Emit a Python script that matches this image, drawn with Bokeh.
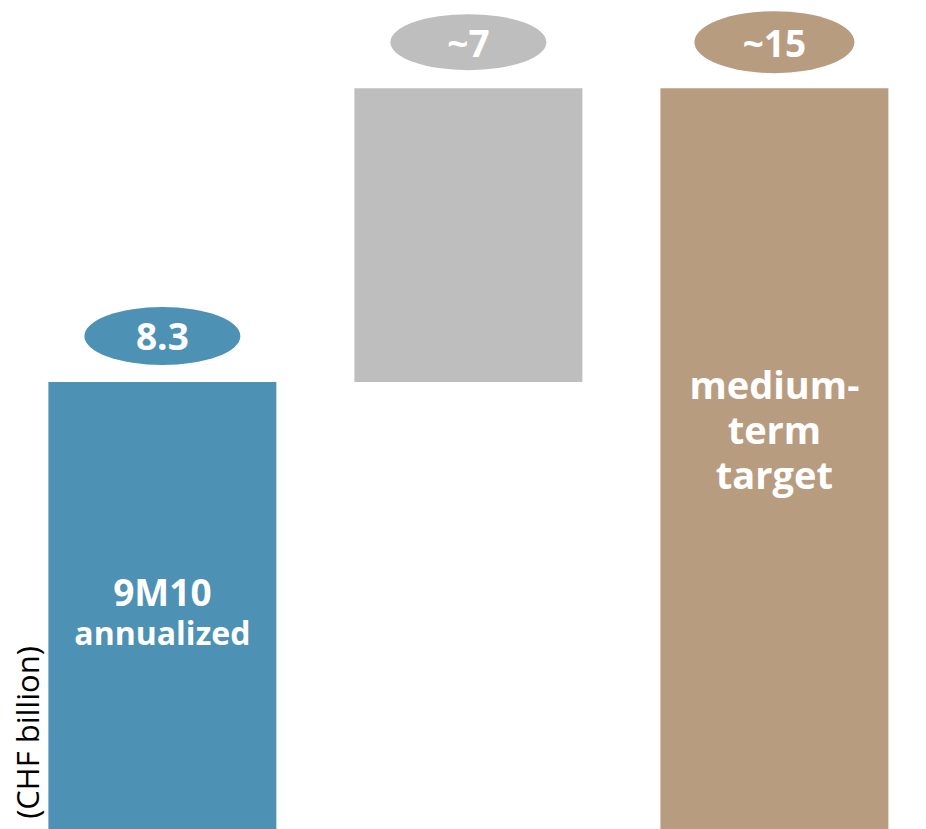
from math import pi
from bokeh.plotting import figure
from bokeh.models import Range1d, ColumnDataSource, Label
from bokeh.core.properties import value
from bokeh.embed import file_html
from bokeh.resources import INLINE

# ---- data ----
categories = ["9M10 annualized", "increase", "medium-term target"]
steps = [8.3, 6.7, 15.0]          # bar values (the middle one is an increment)
is_total = [True, False, True]
bubble_labels = ["8.3", "~7", "~15"]
colors = ["#4D91B4", "#BEBEBE", "#B89C80"]
unit_label = "(CHF billion)"

AXIS_FLOOR = -1.9
AXIS_TOP = 17.0

# waterfall geometry
bottoms, tops = [], []
running = 0.0
for v, tot in zip(steps, is_total):
    if tot:
        bottoms.append(AXIS_FLOOR)
        tops.append(v)
        running = v
    else:
        bottoms.append(running)
        running = running + v
        tops.append(running)

xs = list(range(len(categories)))
src = ColumnDataSource(dict(x=xs, bottom=bottoms, top=tops, color=colors,
                            label=bubble_labels,
                            ly=[t + 1.05 for t in tops],
                            ew=[156, 156, 160], eh=[58, 56, 62]))

p = figure(width=926, height=829, output_backend="svg", toolbar_location=None,
           x_range=Range1d(-0.529, 2.497), y_range=Range1d(AXIS_FLOOR, AXIS_TOP),
           min_border=0, min_border_left=0, min_border_right=0,
           min_border_top=0, min_border_bottom=0)
p.axis.visible = False
p.grid.visible = False
p.outline_line_color = None
p.background_fill_color = "white"
p.border_fill_color = "white"

p.vbar(x="x", bottom="bottom", top="top", width=0.745, color="color",
       line_color=None, source=src)

p.ellipse(x="x", y="ly", width="ew", height="eh", width_units="screen",
          height_units="screen", fill_color="color", line_color=None, source=src)

p.text(x="x", y="ly", text="label", source=src, text_color="white",
       text_font=value("Open Sans"), text_font_style="bold",
       text_font_size="37px", text_align="center", text_baseline="middle")

# in-bar labels
p.text(x=[xs[0]], y=[tops[0]], text=["9M10"], y_offset=209, text_color="white",
       text_font=value("Open Sans"), text_font_style="bold",
       text_font_size="37px", text_align="center", text_baseline="middle")
p.text(x=[xs[0]], y=[tops[0]], text=["annualized"], y_offset=250, text_color="white",
       text_font=value("Open Sans"), text_font_style="bold",
       text_font_size="32px", text_align="center", text_baseline="middle")
p.text(x=[xs[2]], y=[tops[2]], text=["medium-\nterm\ntarget"], y_offset=341,
       text_color="white", text_font=value("Open Sans"), text_font_style="bold",
       text_font_size="38px", text_align="center", text_baseline="middle",
       text_line_height=0.87)

p.add_layout(Label(x=26, y=97, x_units="screen", y_units="screen", angle=pi / 2,
                   text=unit_label, text_font="Open Sans", text_font_size="31px",
                   text_color="black", text_align="center", text_baseline="middle"))

open("out.html", "w").write(file_html(p, INLINE))
